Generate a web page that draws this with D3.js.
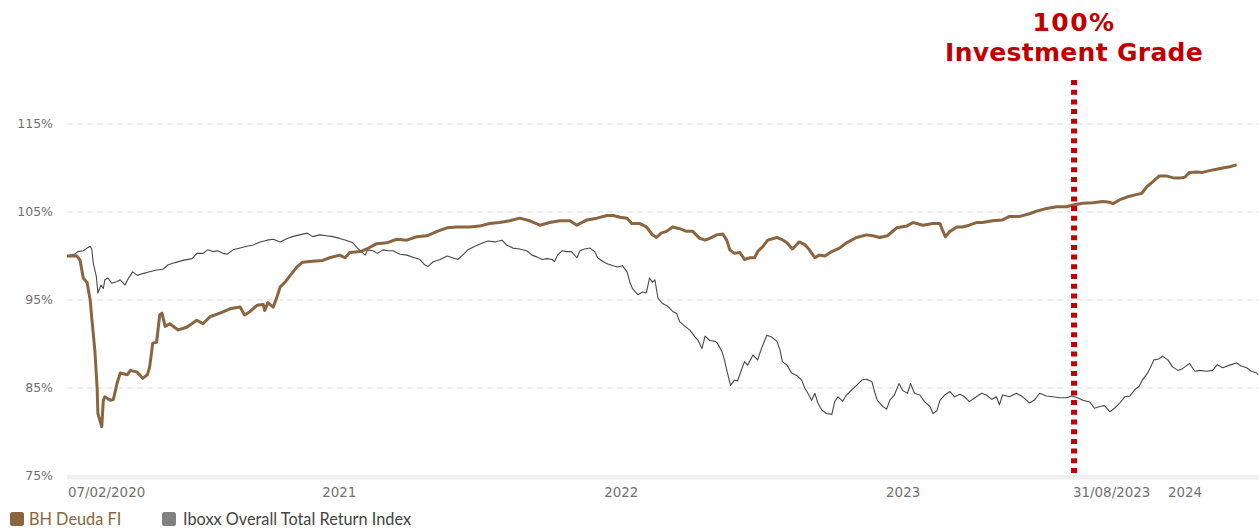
<!DOCTYPE html>
<html>
<head>
<meta charset="utf-8">
<script src="https://cdn.jsdelivr.net/npm/d3@7"></script>
<style>
  body { margin: 0; background: #fff; }
  svg { display: block; }
</style>
</head>
<body>
<svg id="chart"></svg>
<script>
const START = '2020-02-07'
const END_DAY = 1543
const yTicks = [75, 85, 95, 105, 115]
const xTickDates = ['2020-02-07', '2021-01-01', '2022-01-01', '2023-01-01', '2023-08-31', '2024-01-01']
const xTickLabels = ['07/02/2020', '2021', '2022', '2023', '31/08/2023', '2024']
const markerDate = '2023-08-31'
const markerLabel = ['100%', 'Investment Grade']
const seriesNames = ['BH Deuda FI', 'Iboxx Overall Total Return Index']

// [days since 07/02/2020, value in %]
const fundData = [
  [0, 100.0], [13, 100.0], [17, 99.5], [21, 97.5], [26, 97.0], [30, 95.0], [32, 93.0], [36, 89.3],
  [39, 85.0], [40, 82.1], [45, 80.6], [47, 83.6], [49, 84.0], [56, 83.6], [60, 83.7], [65, 85.6],
  [69, 86.7], [78, 86.5], [82, 87.0], [91, 86.8], [98, 86.1], [104, 86.5], [107, 87.4], [111, 90.1],
  [116, 90.2], [120, 93.3], [123, 93.5], [127, 92.0], [133, 92.3], [144, 91.6], [155, 91.9], [168, 92.7],
  [176, 92.3], [185, 93.1], [198, 93.5], [211, 94.0], [224, 94.2], [230, 93.3], [237, 93.7], [246, 94.4],
  [254, 94.5], [256, 93.8], [260, 94.7], [267, 94.2], [272, 95.4], [276, 96.5], [282, 97.0], [289, 97.8],
  [298, 98.8], [305, 99.3], [318, 99.4], [331, 99.5], [340, 99.8], [353, 100.1], [360, 99.8], [366, 100.4],
  [380, 100.5], [388, 100.8], [401, 101.4], [414, 101.5], [427, 101.9], [440, 101.8], [453, 102.2], [466, 102.3],
  [479, 102.8], [492, 103.2], [505, 103.3], [521, 103.3], [534, 103.4], [547, 103.7], [560, 103.8], [573, 104.0],
  [586, 104.3], [599, 104.0], [612, 103.5], [625, 103.8], [638, 104.0], [651, 104.0], [660, 103.5], [673, 104.1],
  [686, 104.3], [699, 104.6], [707, 104.6], [716, 104.4], [725, 104.3], [731, 103.7], [741, 103.7], [750, 103.3],
  [758, 102.4], [763, 102.1], [769, 102.6], [776, 102.8], [784, 103.3], [793, 103.1], [802, 102.8], [810, 102.8],
  [819, 102.0], [826, 101.8], [832, 102.0], [841, 102.4], [849, 102.5], [854, 101.8], [858, 100.7], [864, 100.3],
  [871, 100.4], [877, 99.6], [884, 99.8], [890, 99.8], [894, 100.5], [901, 101.1], [907, 101.8], [919, 102.1],
  [925, 101.9], [932, 101.5], [939, 100.8], [948, 101.6], [955, 101.3], [961, 100.7], [968, 99.8], [974, 100.1],
  [981, 100.0], [990, 100.5], [1000, 100.9], [1009, 101.5], [1022, 102.1], [1035, 102.4], [1043, 102.3], [1052, 102.1],
  [1062, 102.3], [1074, 103.2], [1087, 103.4], [1095, 103.8], [1108, 103.5], [1121, 103.7], [1130, 103.7], [1133, 103.0],
  [1137, 102.2], [1143, 102.8], [1152, 103.3], [1159, 103.3], [1168, 103.5], [1177, 103.8], [1185, 103.8], [1198, 104.0],
  [1211, 104.1], [1220, 104.5], [1233, 104.5], [1246, 104.8], [1255, 105.1], [1268, 105.4], [1281, 105.6], [1294, 105.6],
  [1302, 105.8], [1315, 106.0], [1328, 106.05], [1341, 106.2], [1350, 106.1], [1354, 105.95], [1363, 106.4], [1372, 106.7],
  [1385, 107.0], [1391, 107.1], [1398, 107.9], [1405, 108.4], [1414, 109.1], [1423, 109.1], [1431, 108.9], [1440, 108.85],
  [1447, 108.95], [1453, 109.5], [1462, 109.55], [1470, 109.5], [1479, 109.7], [1488, 109.85], [1496, 110.0], [1505, 110.15],
  [1514, 110.35]
]

const indexData = [
  [0, 100.0], [10, 100.2], [14, 100.5], [21, 100.6], [26, 100.9], [30, 101.1], [32, 100.8], [34, 99.2],
  [38, 97.65], [40, 95.8], [44, 96.7], [47, 96.3], [49, 97.3], [53, 97.5], [58, 96.9], [65, 97.1],
  [69, 97.3], [75, 96.7], [79, 97.4], [85, 98.2], [91, 97.8], [98, 98.0], [107, 98.2], [116, 98.4],
  [124, 98.5], [131, 99.0], [140, 99.25], [150, 99.5], [162, 99.7], [168, 100.3], [176, 100.3], [182, 100.7],
  [189, 100.5], [195, 100.6], [202, 100.3], [207, 100.2], [215, 100.7], [224, 100.9], [233, 101.1], [241, 101.25],
  [250, 101.6], [259, 101.8], [267, 101.9], [276, 101.6], [285, 102.0], [292, 102.2], [301, 102.4], [311, 102.6],
  [318, 102.2], [327, 102.4], [336, 102.3], [344, 102.2], [353, 102.0], [362, 101.75], [370, 101.5], [377, 100.8],
  [386, 100.1], [389, 100.7], [396, 100.6], [402, 100.3], [409, 100.7], [415, 100.6], [422, 100.6], [431, 100.2],
  [440, 100.1], [448, 99.85], [457, 99.6], [463, 99.0], [467, 98.8], [474, 99.35], [483, 99.6], [492, 100.0],
  [499, 99.8], [506, 99.6], [512, 100.1], [519, 100.7], [528, 101.1], [537, 101.45], [545, 101.7], [554, 101.6],
  [563, 101.8], [569, 101.25], [577, 100.9], [586, 100.8], [595, 100.6], [602, 100.1], [608, 99.9], [615, 99.6],
  [621, 99.7], [628, 99.6], [631, 99.35], [635, 100.1], [641, 100.6], [647, 100.5], [653, 100.5], [660, 99.8],
  [664, 100.6], [670, 100.8], [677, 100.9], [683, 100.5], [687, 99.8], [694, 99.35], [700, 99.1], [707, 98.9],
  [713, 98.75], [719, 98.9], [725, 98.2], [729, 96.9], [732, 96.3], [739, 95.6], [745, 95.9], [750, 95.8],
  [754, 97.5], [758, 97.0], [761, 97.3], [765, 95.2], [771, 94.6], [778, 94.25], [784, 93.7], [789, 93.5],
  [793, 92.55], [800, 92.0], [806, 91.6], [813, 90.8], [817, 90.4], [822, 89.5], [826, 90.9], [832, 90.4],
  [839, 90.3], [842, 90.1], [848, 89.1], [851, 88.2], [855, 86.7], [859, 85.3], [864, 85.9], [868, 85.8],
  [873, 87.05], [877, 88.0], [881, 87.6], [888, 88.75], [894, 88.2], [899, 89.5], [906, 91.0], [912, 90.8],
  [919, 90.3], [923, 89.3], [926, 88.0], [932, 87.6], [938, 86.7], [945, 86.4], [951, 85.9], [955, 85.0],
  [959, 84.4], [964, 83.6], [968, 84.4], [972, 83.3], [977, 82.5], [983, 82.1], [990, 82.0], [994, 83.5],
  [998, 84.0], [1004, 83.5], [1009, 84.2], [1016, 84.8], [1022, 85.3], [1029, 85.9], [1035, 86.0], [1042, 85.7],
  [1046, 84.4], [1049, 83.6], [1056, 82.9], [1061, 82.6], [1065, 83.6], [1071, 84.2], [1077, 85.5], [1082, 84.7],
  [1088, 84.4], [1092, 85.5], [1097, 84.4], [1104, 84.2], [1110, 83.45], [1117, 82.9], [1121, 82.1], [1126, 82.4],
  [1130, 83.6], [1136, 84.2], [1143, 84.6], [1149, 84.0], [1156, 84.3], [1162, 84.0], [1168, 83.45], [1177, 84.0],
  [1184, 84.4], [1190, 84.2], [1197, 83.7], [1203, 84.0], [1207, 83.1], [1211, 84.2], [1220, 84.0], [1229, 84.4],
  [1237, 84.0], [1246, 83.3], [1253, 83.7], [1259, 84.4], [1268, 84.1], [1276, 84.0], [1285, 83.9], [1294, 83.9],
  [1300, 84.1], [1308, 83.9], [1315, 83.6], [1324, 83.4], [1330, 82.7], [1337, 82.9], [1343, 83.0], [1350, 82.3],
  [1356, 82.7], [1363, 83.3], [1369, 84.0], [1376, 84.1], [1382, 84.8], [1388, 85.2], [1392, 85.9], [1398, 86.6],
  [1402, 87.25], [1407, 88.2], [1413, 88.3], [1418, 88.6], [1425, 88.2], [1431, 87.4], [1438, 87.0], [1444, 87.2],
  [1453, 87.8], [1460, 86.9], [1466, 87.0], [1475, 86.9], [1483, 87.0], [1489, 87.65], [1496, 87.3], [1505, 87.6],
  [1514, 87.85], [1520, 87.5], [1527, 87.3], [1533, 86.9], [1540, 86.7], [1542, 86.5]
]

const W = 1259, H = 529
const PLOT = { left: 67, right: 1259, top: 124, bottom: 476 }
const FUND_COLOR = '#8b6540'
const INDEX_COLOR = '#484848'
const RED = '#c00000'

const parse = d3.timeParse('%Y-%m-%d')
const start = parse(START)
const dayToDate = d => d3.timeDay.offset(start, d)

const svg = d3.select('#chart').attr('width', W).attr('height', H)

const x = d3.scaleTime()
  .domain([start, dayToDate(END_DAY)])
  .range([PLOT.left, PLOT.right])
const y = d3.scaleLinear()
  .domain([75, 115])
  .range([PLOT.bottom, PLOT.top])

// grid
const gGrid = svg.append('g')
gGrid.selectAll('line')
  .data(yTicks.filter(t => t > 75))
  .join('line')
  .attr('x1', PLOT.left).attr('x2', PLOT.right)
  .attr('y1', d => y(d)).attr('y2', d => y(d))
  .attr('stroke', '#dcdcdc')
  .attr('stroke-width', 1)
  .attr('stroke-dasharray', '6,4')

// baseline band
svg.append('rect')
  .attr('x', PLOT.left).attr('y', y(75) - 1)
  .attr('width', PLOT.right - PLOT.left).attr('height', 4.5)
  .attr('fill', '#efefef')

// y labels
svg.append('g').selectAll('text')
  .data(yTicks)
  .join('text')
  .attr('x', 53)
  .attr('y', d => y(d))
  .attr('dy', '0.35em')
  .attr('text-anchor', 'end')
  .attr('font-family', 'DejaVu Sans, sans-serif')
  .attr('font-size', 12.5)
  .attr('fill', '#707070')
  .text(d => d + '%')

// x labels
svg.append('g').selectAll('text')
  .data(xTickDates.map((d, i) => ({ date: parse(d), label: xTickLabels[i] })))
  .join('text')
  .attr('x', d => x(d.date) + 1)
  .attr('y', 497)
  .attr('text-anchor', 'start')
  .attr('font-family', 'DejaVu Sans, sans-serif')
  .attr('font-size', 13.4)
  .attr('fill', '#707070')
  .text(d => d.label)

// lines
const line = d3.line()
  .x(d => x(dayToDate(d[0])))
  .y(d => y(d[1]))

svg.append('path')
  .datum(indexData)
  .attr('d', line)
  .attr('fill', 'none')
  .attr('stroke', INDEX_COLOR)
  .attr('stroke-width', 1.1)
  .attr('stroke-linejoin', 'round')

svg.append('path')
  .datum(fundData)
  .attr('d', line)
  .attr('fill', 'none')
  .attr('stroke', FUND_COLOR)
  .attr('stroke-width', 3)
  .attr('stroke-linejoin', 'round')

// investment grade marker
const mx = x(parse(markerDate)) + 2
svg.append('line')
  .attr('x1', mx).attr('x2', mx)
  .attr('y1', 80).attr('y2', PLOT.bottom)
  .attr('stroke', RED)
  .attr('stroke-width', 6)
  .attr('stroke-dasharray', '5,4.7')

svg.append('g').selectAll('text')
  .data(markerLabel)
  .join('text')
  .attr('x', mx)
  .attr('y', (d, i) => 31 + i * 29.5)
  .attr('text-anchor', 'middle')
  .attr('font-family', 'DejaVu Sans, sans-serif')
  .attr('font-weight', 'bold')
  .attr('font-size', 25)
  .attr('letter-spacing', (d, i) => i === 0 ? 1.5 : 0.3)
  .attr('fill', RED)
  .text(d => d)

// legend
const legend = svg.append('g')
const items = [
  { name: seriesNames[0], swatch: FUND_COLOR, text: FUND_COLOR, x: 10, tx: 29 },
  { name: seriesNames[1], swatch: '#808080', text: '#444444', x: 162, tx: 183 }
]
items.forEach(it => {
  legend.append('rect')
    .attr('x', it.x).attr('y', 512)
    .attr('width', 14).attr('height', 14)
    .attr('rx', 2.5)
    .attr('fill', it.swatch)
  legend.append('text')
    .attr('x', it.tx).attr('y', 519)
    .attr('dy', '0.35em')
    .attr('font-family', 'Lato, sans-serif')
    .attr('font-size', 16.3)
    .attr('fill', it.text)
    .text(it.name)
})
</script>
</body>
</html>
